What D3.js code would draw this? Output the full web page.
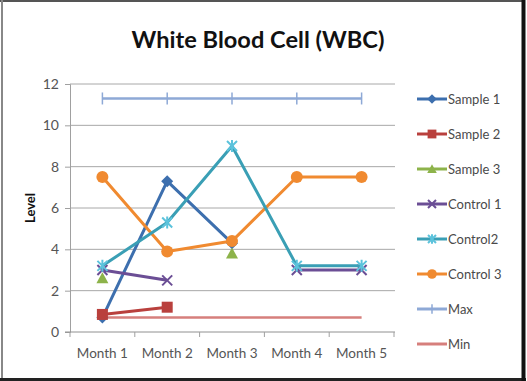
<!DOCTYPE html>
<html>
<head>
<meta charset="utf-8">
<script src="https://cdn.jsdelivr.net/npm/d3@7"></script>
<style>
html,body{margin:0;padding:0;background:#fff;}
svg{display:block;}
</style>
</head>
<body>
<svg id="chart" width="527" height="381"></svg>
<script>
const categories = ["Month 1","Month 2","Month 3","Month 4","Month 5"];
const yTicks = [0,2,4,6,8,10,12];
const sample1  = [0.7, 7.3, 4.3, null, null];
const sample2  = [0.85, 1.2, null, null, null];
const sample3  = [2.6, null, 3.8, null, null];
const control1 = [3.0, 2.5, null, 3.0, 3.0];
const control2 = [3.2, 5.3, 9.0, 3.2, 3.2];
const control3 = [7.5, 3.9, 4.4, 7.5, 7.5];
const maxVals  = [11.3, 11.3, 11.3, 11.3, 11.3];
const minVals  = [0.7, 0.7, 0.7, 0.7, 0.7];
const seriesNames = ["Sample 1","Sample 2","Sample 3","Control 1","Control2","Control 3","Max","Min"];

const series = [
  {name: seriesNames[0], values: sample1,  color: "#3d6fae", marker: "diamond"},
  {name: seriesNames[1], values: sample2,  color: "#b9403d", marker: "square"},
  {name: seriesNames[2], values: sample3,  color: "#8db34a", marker: "triangle"},
  {name: seriesNames[3], values: control1, color: "#6b4e95", marker: "x"},
  {name: seriesNames[4], values: control2, color: "#3a9fb5", marker: "star"},
  {name: seriesNames[5], values: control3, color: "#f08a30", marker: "circle"},
  {name: seriesNames[6], values: maxVals,  color: "#8ea9d6", marker: "plus"},
  {name: seriesNames[7], values: minVals,  color: "#d67f7c", marker: "none"}
];

const svg = d3.select("#chart");
const font = "Lato, 'Open Sans', sans-serif";

// frame
svg.append("rect").attr("x",0).attr("y",0).attr("width",527).attr("height",381).attr("fill","#fff");
svg.append("line").attr("x1",0).attr("x2",524).attr("y1",1).attr("y2",1).attr("stroke","#555").attr("stroke-width",2);
svg.append("line").attr("x1",2).attr("x2",2).attr("y1",0).attr("y2",380).attr("stroke","#888").attr("stroke-width",2);
svg.append("line").attr("x1",0).attr("x2",526).attr("y1",379.5).attr("y2",379.5).attr("stroke","#222").attr("stroke-width",3);
svg.append("line").attr("x1",523.5).attr("x2",523.5).attr("y1",0).attr("y2",381).attr("stroke","#111").attr("stroke-width",4);

const pLeft = 70, pRight = 394, pTop = 84, pBottom = 332;
const x = d3.scalePoint().domain(categories).range([pLeft, pRight]).padding(0.5);
const y = d3.scaleLinear().domain([0, 12]).range([pBottom, pTop]);

// gridlines
svg.append("g").selectAll("line").data(yTicks.filter(d => d > 0)).join("line")
  .attr("x1", pLeft).attr("x2", pRight + 1)
  .attr("y1", d => y(d)).attr("y2", d => y(d))
  .attr("stroke", "#a8a8a8").attr("stroke-width", 1);

// y axis
const yAxis = svg.append("g").attr("transform", `translate(${pLeft},0)`)
  .call(d3.axisLeft(y).tickValues(yTicks).tickSize(5).tickPadding(6));
yAxis.select(".domain").attr("stroke", "#a0a0a0");
yAxis.selectAll(".tick line").attr("stroke", "#a0a0a0");
yAxis.selectAll("text").attr("font-family", font).attr("font-size", 14).attr("fill", "#555");

// x axis
const step = x.step();
const bounds = d3.range(categories.length + 1).map(i => pLeft + i * step);
const xAxisG = svg.append("g").attr("transform", `translate(0,${pBottom})`);
xAxisG.append("line").attr("x1", pLeft - 5).attr("x2", pRight + 1).attr("y1", 0).attr("y2", 0).attr("stroke", "#909090");
xAxisG.selectAll("line.tk").data(bounds).join("line").attr("class","tk")
  .attr("x1", d => d).attr("x2", d => d).attr("y1", 0).attr("y2", 5).attr("stroke", "#a0a0a0");
xAxisG.selectAll("text").data(categories).join("text")
  .attr("x", d => x(d)).attr("y", 26).attr("text-anchor", "middle")
  .attr("font-family", font).attr("font-size", 13.5).attr("fill", "#555").text(d => d);

// title
const title = svg.append("text").attr("x", 258).attr("y", 48).attr("text-anchor", "middle")
  .attr("font-family", font).attr("font-weight", "bold").attr("font-size", 28).attr("fill", "#111")
  .text("White Blood Cell (WBC)");
const tw = title.node().getComputedTextLength();
title.attr("font-size", 28 * 253 / tw);

// y label
svg.append("text").attr("transform", "translate(35,208) rotate(-90)").attr("text-anchor", "middle")
  .attr("font-family", font).attr("font-weight", "bold").attr("font-size", 13).attr("fill", "#111")
  .text("Level");

function drawMarker(g, type, cx, cy, color, s) {
  s = s || 1;
  if (type === "diamond") {
    g.append("path").attr("d", `M${cx},${cy-6*s}L${cx+6*s},${cy}L${cx},${cy+6*s}L${cx-6*s},${cy}Z`).attr("fill", color);
  } else if (type === "square") {
    g.append("rect").attr("x", cx-5.5*s).attr("y", cy-5.5*s).attr("width", 11*s).attr("height", 11*s).attr("fill", color);
  } else if (type === "triangle") {
    g.append("path").attr("d", `M${cx},${cy-6*s}L${cx+6*s},${cy+5*s}L${cx-6*s},${cy+5*s}Z`).attr("fill", color);
  } else if (type === "x") {
    g.append("path").attr("d", `M${cx-5*s},${cy-5*s}L${cx+5*s},${cy+5*s}M${cx+5*s},${cy-5*s}L${cx-5*s},${cy+5*s}`).attr("stroke", color).attr("stroke-width", 2);
  } else if (type === "star") {
    g.append("path").attr("d", `M${cx-5*s},${cy-5*s}L${cx+5*s},${cy+5*s}M${cx+5*s},${cy-5*s}L${cx-5*s},${cy+5*s}M${cx},${cy-6*s}L${cx},${cy+6*s}`).attr("stroke", "#5cc3dc").attr("stroke-width", 2);
  } else if (type === "circle") {
    g.append("circle").attr("cx", cx).attr("cy", cy).attr("r", 6*s).attr("fill", color);
  } else if (type === "plus") {
    g.append("path").attr("d", `M${cx},${cy-6*s}L${cx},${cy+6*s}`).attr("stroke", color).attr("stroke-width", 1.5);
  }
}

const line = d3.line().defined(d => d.v != null).x(d => x(d.c)).y(d => y(d.v));
const plot = svg.append("g");
const order = [6, 7, 0, 1, 2, 3, 5, 4];
order.forEach(i => {
  const s = series[i];
  const pts = categories.map((c, j) => ({c, v: s.values[j]}));
  plot.append("path").datum(pts).attr("d", line).attr("fill", "none")
    .attr("stroke", s.color).attr("stroke-width", i >= 6 ? 2.5 : 3).attr("stroke-linejoin", "round");
  const mg = plot.append("g");
  pts.filter(p => p.v != null).forEach(p => drawMarker(mg, s.marker, x(p.c), y(p.v), s.color));
});

// legend
const leg = svg.append("g");
series.forEach((s, i) => {
  const ly = 99 + i * 35;
  leg.append("line").attr("x1", 417).attr("x2", 447).attr("y1", ly).attr("y2", ly)
    .attr("stroke", s.color).attr("stroke-width", 3);
  drawMarker(leg, s.marker, 432, ly, s.color, 0.8);
  leg.append("text").attr("x", 448).attr("y", ly + 5).attr("font-family", font).attr("font-size", 13)
    .attr("fill", "#4a4a4a").text(s.name);
});
</script>
</body>
</html>
